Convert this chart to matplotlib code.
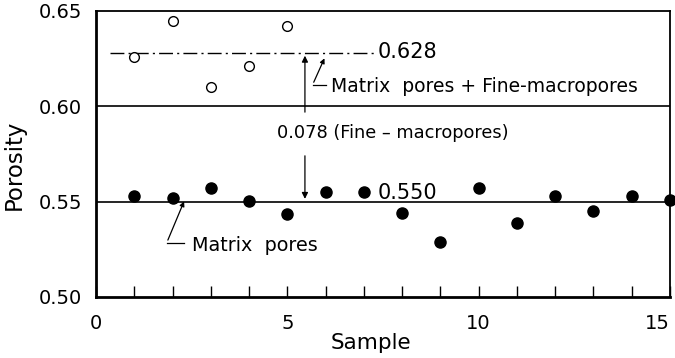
import matplotlib
matplotlib.use("Agg")
import matplotlib.pyplot as plt
from matplotlib.ticker import MultipleLocator

# data
samples = list(range(1, 16))
total_samples = [1, 2, 3, 4, 5]
total_porosity = [0.626, 0.645, 0.610, 0.621, 0.642]
matrix_porosity = [0.553, 0.552, 0.557, 0.5505, 0.5435, 0.555, 0.555, 0.544,
                   0.529, 0.557, 0.539, 0.553, 0.545, 0.553, 0.551]
mean_total = 0.628
mean_matrix = 0.550
x_ticks = [0, 5, 10, 15]
x_labels = ['0', '5', '10', '15']
y_ticks = [0.50, 0.55, 0.60, 0.65]
y_labels = ['0.50', '0.55', '0.60', '0.65']

plt.rcParams['font.family'] = ['DejaVu Sans']

fig = plt.figure(figsize=(6.75, 3.58), dpi=100)
ax = fig.add_axes([0.1422, 0.1704, 0.8504, 0.7989])

ax.set_xlim(0, 15)
ax.set_ylim(0.50, 0.65)

# reference lines
ax.axhline(0.60, color='black', lw=1.2)
ax.axhline(mean_matrix, color='black', lw=1.2)
ax.plot([0.37, 7.3], [mean_total, mean_total], color='black', lw=1.0,
        dashes=[10, 3, 1.5, 3])

ax.plot(total_samples, total_porosity, 'o', mfc='white', mec='black',
        mew=1.0, ms=7, clip_on=False)
ax.plot(samples, matrix_porosity, 'o', color='black', ms=8, clip_on=False)

# double arrow for difference
xa = 5.46
ax.annotate('', xy=(xa, mean_total), xytext=(xa, 0.5955),
            arrowprops=dict(arrowstyle='-|>', color='black', lw=0.9,
                            mutation_scale=9))
ax.annotate('', xy=(xa, mean_matrix), xytext=(xa, 0.5755),
            arrowprops=dict(arrowstyle='-|>', color='black', lw=0.9,
                            mutation_scale=9))
ax.text(4.72, 0.5862, '0.078 (Fine – macropores)', fontsize=12.8,
        va='center', ha='left')

ax.text(7.35, mean_total + 0.0005, '0.628', fontsize=15, va='center', ha='left')
ax.text(7.35, 0.5545, '0.550', fontsize=15, va='center', ha='left')

# leaders
ax.annotate('', xy=(6.0, 0.6265), xytext=(5.66, 0.6113),
            arrowprops=dict(arrowstyle='-|>', color='black', lw=0.9,
                            mutation_scale=7))
ax.plot([5.66, 6.0], [0.6113, 0.6113], color='black', lw=0.9)
ax.text(6.15, 0.6103, 'Matrix  pores + Fine-macropores', fontsize=13.5,
        va='center', ha='left')

ax.annotate('', xy=(2.33, 0.5515), xytext=(1.85, 0.5285),
            arrowprops=dict(arrowstyle='-|>', color='black', lw=0.9,
                            mutation_scale=7))
ax.plot([1.85, 2.3], [0.5285, 0.5285], color='black', lw=0.9)
ax.text(2.5, 0.5270, 'Matrix  pores', fontsize=13.8, va='center', ha='left')

# axes styling
for side in ['left', 'bottom']:
    ax.spines[side].set_linewidth(2.0)
for side in ['top', 'right']:
    ax.spines[side].set_linewidth(1.3)

ax.set_xticks(x_ticks)
ax.set_xticklabels(x_labels)
ax.get_xticklabels()[-1].set_ha('right')
ax.xaxis.set_minor_locator(MultipleLocator(1))
ax.tick_params(axis='x', which='both', direction='in', length=8, width=1.0,
               top=False, labelsize=14, pad=12)
ax.set_yticks(y_ticks)
ax.set_yticklabels(y_labels)
ax.tick_params(axis='y', length=0, labelsize=14, pad=10)

ax.set_xlabel('Sample', fontsize=15.5, va='center')
ax.xaxis.set_label_coords(0.479, -0.161)
ax.set_ylabel('Porosity', fontsize=16.5, va='center')
ax.yaxis.set_label_coords(-0.143, 0.4615)

fig.savefig('out.png', dpi=100)
